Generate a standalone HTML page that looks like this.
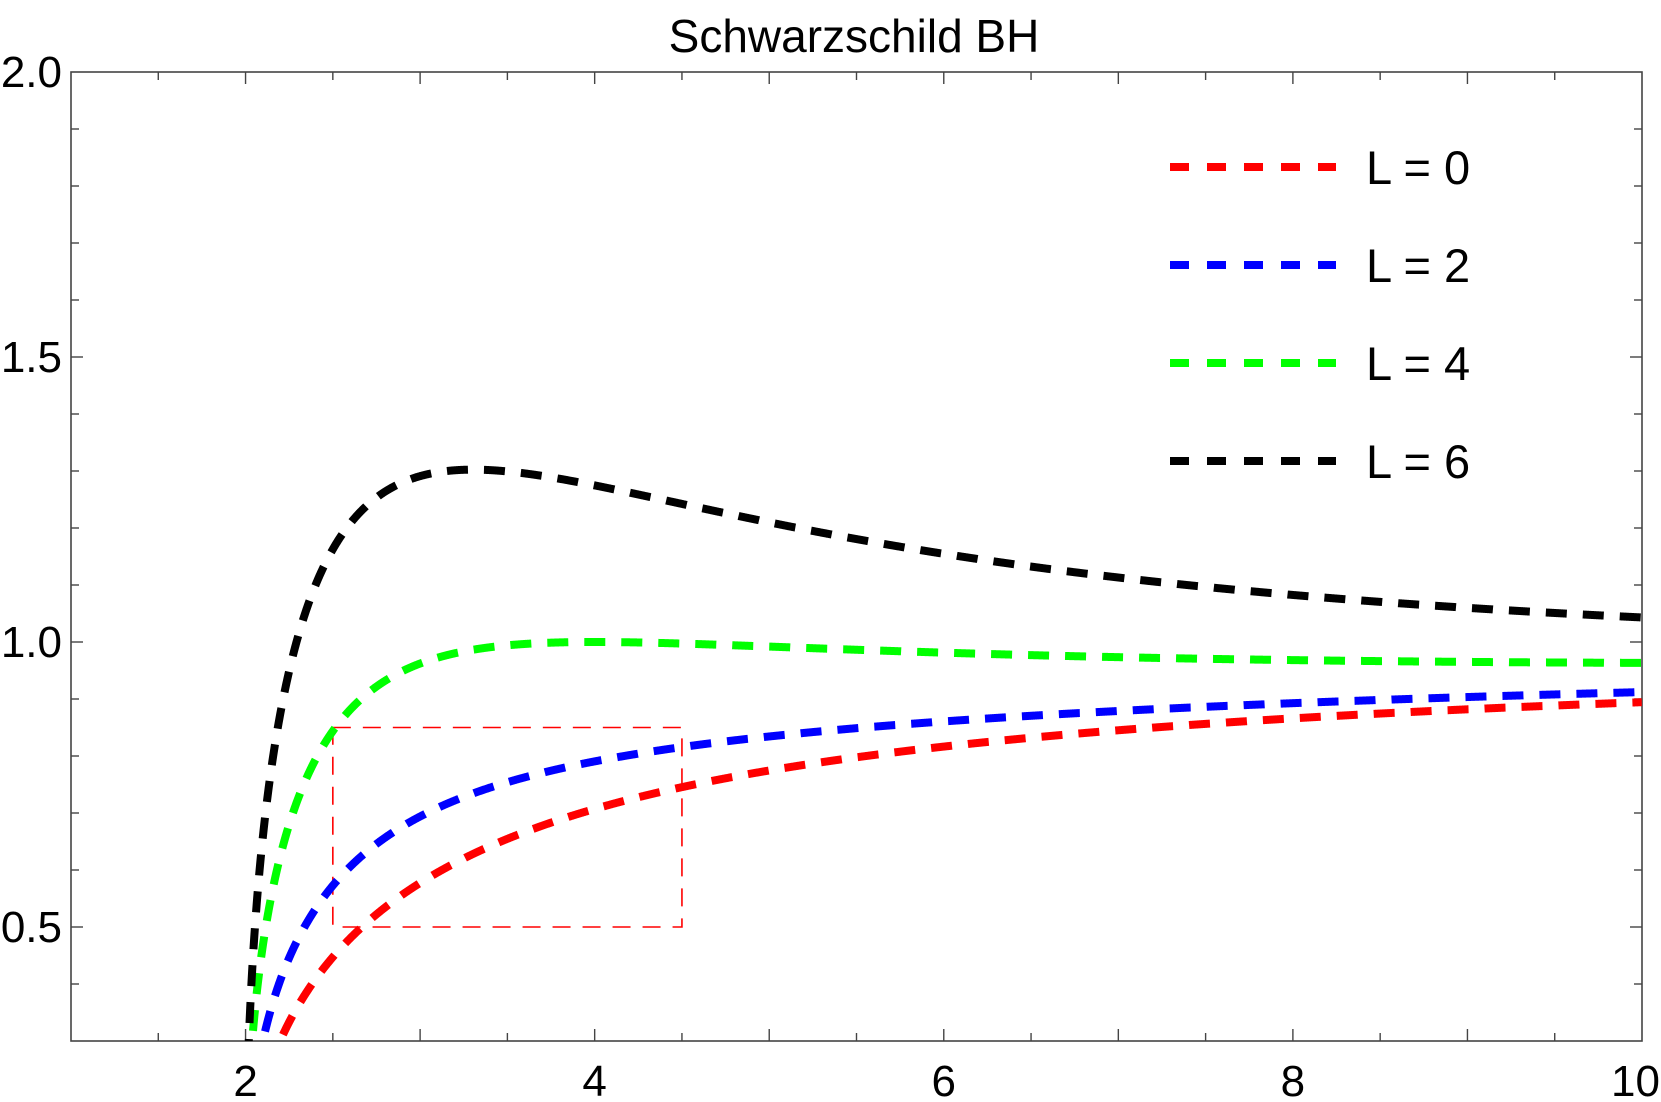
<!DOCTYPE html>
<html><head><meta charset="utf-8"><style>
body{margin:0;background:#fff}
svg text{font-family:"Liberation Sans",Arial,sans-serif;fill:#000}
</style></head><body>
<svg id="s" width="1661" height="1097" xmlns="http://www.w3.org/2000/svg">
<text x="854" y="52" font-size="46" text-anchor="middle">Schwarzschild BH</text>
<g id="g"></g>
</svg>
<script>
const X0=71,X1=1642,Y0=1041,Y1=72;
const sx=x=>X0+(x-1)/9*(X1-X0), sy=y=>Y0-(y-0.3)/1.7*(Y0-Y1);
let h='';
h+=`<rect x="${X0}" y="${Y1}" width="${X1-X0}" height="${Y0-Y1}" fill="none" stroke="#444" stroke-width="1.6"/>`;
for(let x=1.5;x<10;x+=0.5){const major=Math.abs(x-Math.round(x))<1e-6;const L=major?12:8;const px=sx(x);
h+=`<line x1="${px}" y1="${Y0}" x2="${px}" y2="${Y0-L}" stroke="#444" stroke-width="1.4"/><line x1="${px}" y1="${Y1}" x2="${px}" y2="${Y1+L}" stroke="#444" stroke-width="1.4"/>`;}
for(let i=4;i<20;i++){const y=i/10;const major=i%5==0;const L=major?12:8;const py=sy(y);
h+=`<line x1="${X0}" y1="${py}" x2="${X0+L}" y2="${py}" stroke="#444" stroke-width="1.4"/><line x1="${X1}" y1="${py}" x2="${X1-L}" y2="${py}" stroke="#444" stroke-width="1.4"/>`;}
[2,4,6,8].forEach(v=>{h+=`<text x="${sx(v)}" y="1096" font-size="44" text-anchor="middle">${v}</text>`});
h+=`<text x="1660" y="1096" font-size="44" text-anchor="end">10</text>`;
[[0.5,'0.5'],[1,'1.0'],[1.5,'1.5'],[2,'2.0']].forEach(([v,t])=>{h+=`<text x="62" y="${sy(v)+15}" font-size="44" text-anchor="end">${t}</text>`});
h+=`<rect x="${sx(2.5)}" y="${sy(0.85)}" width="${sx(4.5)-sx(2.5)}" height="${sy(0.5)-sy(0.85)}" fill="none" stroke="#f00" stroke-width="1.6" stroke-dasharray="18 12"/>`;
const cs=[[0,'#f00'],[2,'#00f'],[4,'#0f0'],[6,'#000']];
h+=`<clipPath id="c"><rect x="${X0}" y="${Y1}" width="${X1-X0}" height="${Y0-Y1}"/></clipPath>`;
cs.forEach(([L,c],k)=>{
 let d='';let first=true;
 for(let r=2.0005;r<=10.0001;r+=0.002){const v=Math.sqrt((1-2/r)*(1+L*L/(r*r)));if(v<0.25)continue;
  d+=(first?'M':'L')+sx(r).toFixed(2)+' '+sy(v).toFixed(2);first=false;}
 h+=`<path d="${d}" fill="none" stroke="${c}" stroke-width="8" stroke-dasharray="21 16" clip-path="url(#c)"/>`;
 const ly=167+k*98;
 h+=`<line x1="1170" y1="${ly}" x2="1336" y2="${ly}" stroke="${c}" stroke-width="8" stroke-dasharray="19 18"/>`;
 h+=`<text x="1366" y="${ly+17}" font-size="47">L = ${L}</text>`;
});
document.getElementById('g').innerHTML=h;
</script>
</body></html>
